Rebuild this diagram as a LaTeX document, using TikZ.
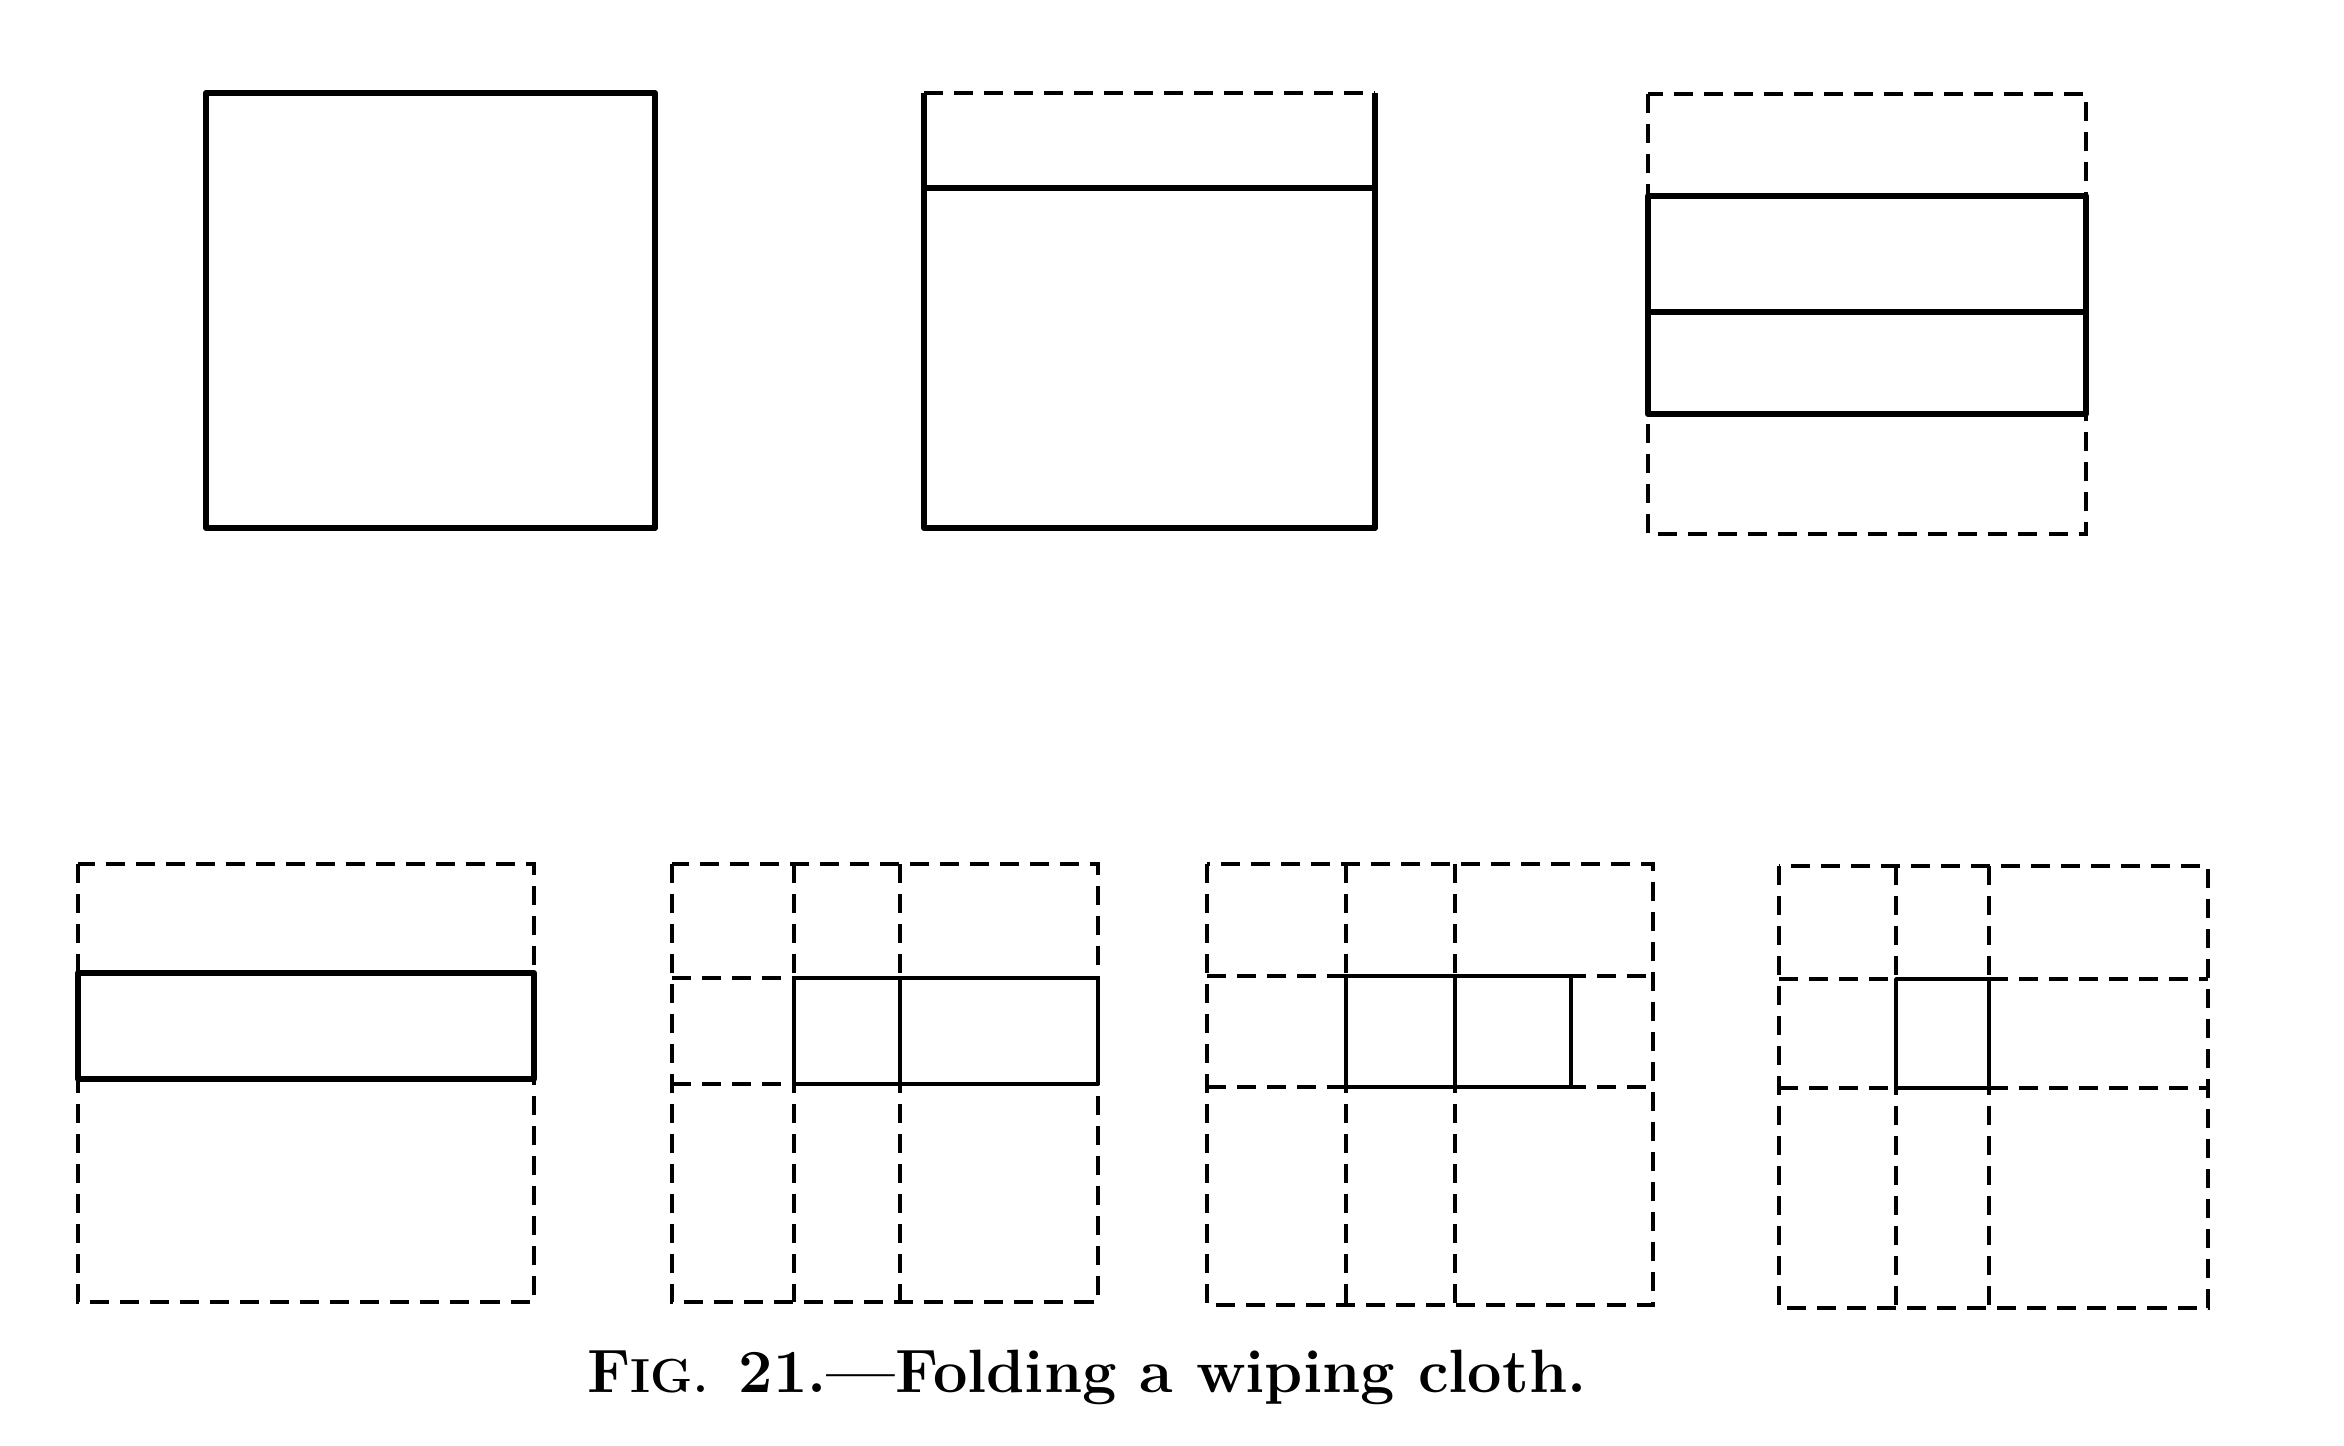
\documentclass[tikz,border=0pt]{standalone}
\usepackage{tikz}

\tikzset{
  fold/.style={line width=1.7pt, line join=round},
  thinfold/.style={line width=1.1pt, line join=round},
  crease/.style={line width=1.3pt, dash pattern=on 0.19cm off 0.11cm},
}

\begin{document}
\begin{tikzpicture}[x=0.01cm,y=-0.01cm]
  \useasboundingbox (0,0) rectangle (2344,1446);

  % the plain cloth
  \draw[fold] (206,93) rectangle (655,528);

  % top edge turned down
  \draw[crease] (924,93) -- (1375,93);
  \draw[fold] (924,93) -- (924,528) -- (1375,528) -- (1375,93);
  \draw[fold] (924,188) -- (1375,188);

  % bottom edge turned up
  \draw[crease] (1648,94) rectangle (2086,534);
  \draw[fold] (1648,196) rectangle (2086,414);
  \draw[fold] (1648,312) -- (2086,312);

  % folded in half lengthwise
  \draw[crease] (78,864) rectangle (534,1302);
  \draw[fold] (78,973) rectangle (534,1079);

  % left end turned in
  \draw[crease] (672,864) rectangle (1098,1302);
  \draw[crease] (672,978) -- (794,978) (672,1084) -- (794,1084);
  \foreach \x in {794,900} \draw[crease] (\x,864) -- (\x,1302);
  \draw[thinfold] (794,978) rectangle (1098,1084) (900,978) -- (900,1084);

  % right end turned in
  \draw[crease] (1207,864) rectangle (1653,1305);
  \draw[crease] (1207,976) -- (1653,976) (1207,1087) -- (1653,1087);
  \foreach \x in {1346,1455} \draw[crease] (\x,864) -- (\x,1305);
  \draw[thinfold] (1346,976) rectangle (1571,1087) (1455,976) -- (1455,1087);

  % folded once more
  \draw[crease] (1779,866) rectangle (2208,1308);
  \draw[crease] (1779,979) -- (2208,979) (1779,1088) -- (2208,1088);
  \foreach \x in {1896,1989} \draw[crease] (\x,866) -- (\x,1308);
  \draw[thinfold] (1896,979) rectangle (1989,1088);

  % caption
  \node[font=\fontsize{17.4}{20}\selectfont\bfseries] (caption) at (1087,1377)
    {F{\fontsize{13.6}{16}\selectfont IG.}\enspace 21.---Folding a wiping cloth.};
\end{tikzpicture}
\end{document}
